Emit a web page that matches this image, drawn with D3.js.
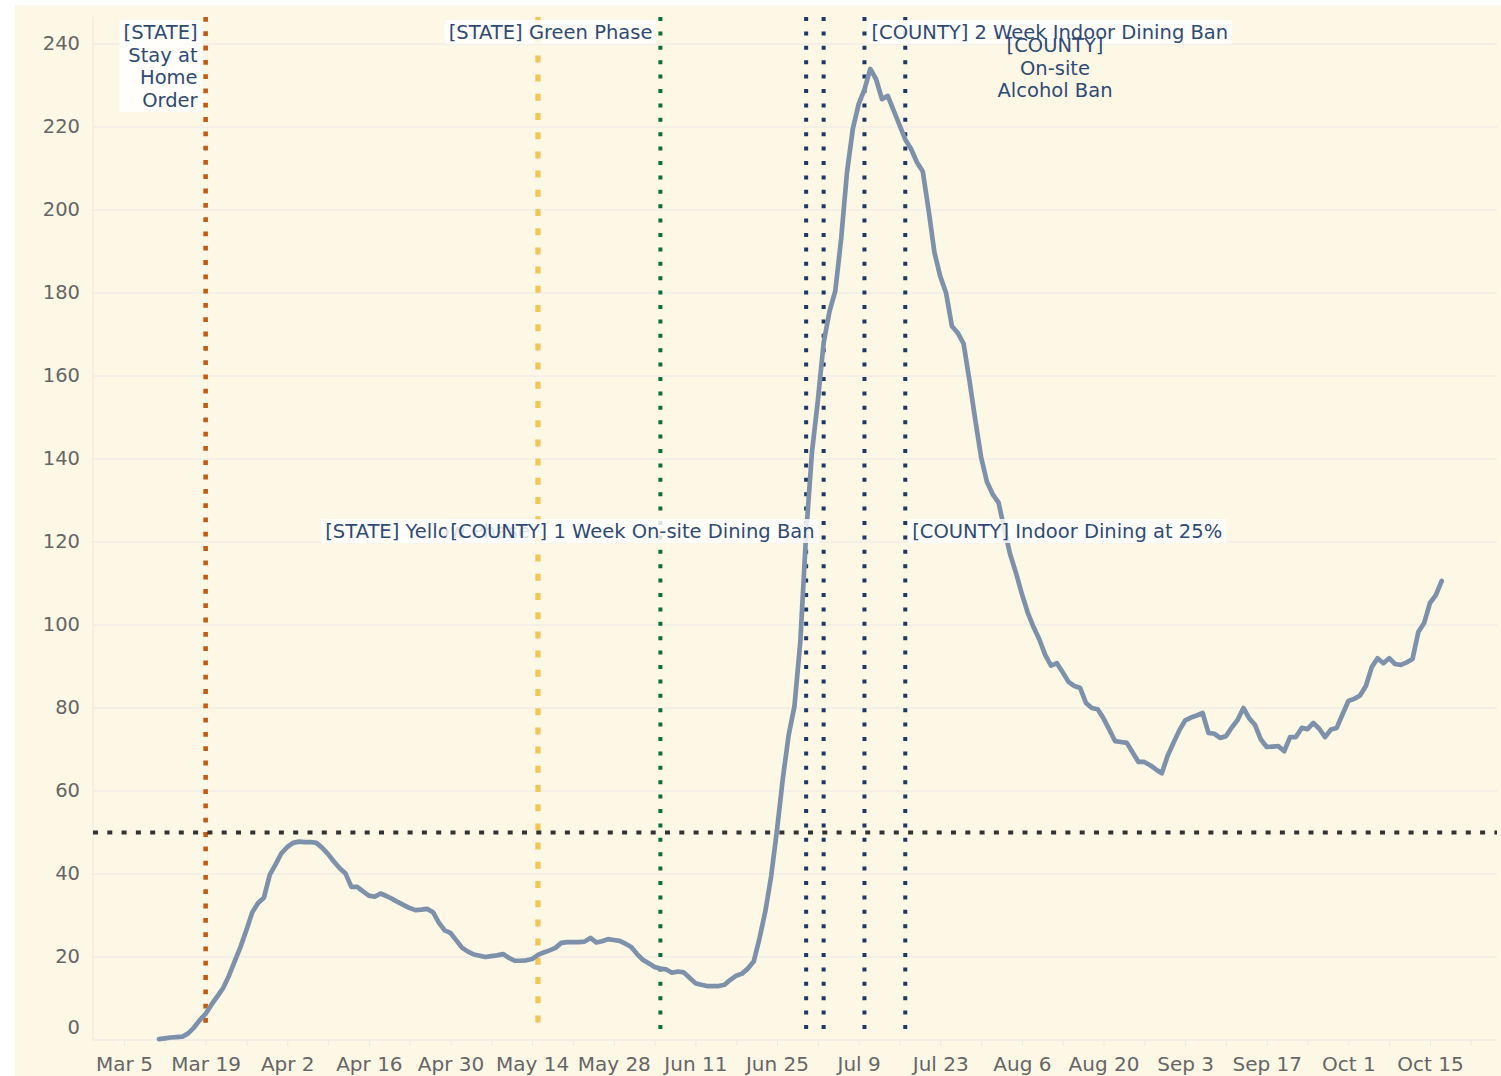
<!DOCTYPE html>
<html>
<head>
<meta charset="utf-8">
<script src="https://cdn.jsdelivr.net/npm/d3@7"></script>
<style>
  body { margin: 0; background: #fff; }
  svg { display: block; }
  text { font-family: "DejaVu Sans", Verdana, sans-serif; }
</style>
</head>
<body>
<svg id="chart" width="1501" height="1076"></svg>
<script>
// daily 7-day average, starting Mar 11 2020
const firstDay = '2020-03-11';
const cases = [
  0.2, 0.4, 0.6, 0.7, 0.8, 1.6, 3, 4.8, 6.3, 8.5, 10.5, 12.5, 15.5, 19, 22.5, 26.5, 30.8, 33, 34.3, 39.8,
  42.3, 45, 46.5, 47.5, 47.8, 47.7, 47.7, 47.5, 46.3, 44.8, 43, 41.4, 40.1, 36.9, 36.9, 35.8, 34.8, 34.5, 35.3, 34.7,
  34, 33.2, 32.5, 31.8, 31.3, 31.4, 31.6, 30.8, 28.3, 26.4, 25.8, 24, 22.2, 21.3, 20.6, 20.3, 20, 20.2, 20.4, 20.7,
  19.8, 19.1, 19.1, 19.2, 19.5, 20.5, 21.1, 21.6, 22.2, 23.4, 23.6, 23.6, 23.6, 23.7, 24.6, 23.5, 23.8, 24.3, 24.1, 23.9,
  23.2, 22.4, 20.7, 19.3, 18.5, 17.6, 17.2, 17, 16.2, 16.5, 16.3, 15, 13.7, 13.3, 13, 13, 13, 13.3, 14.5, 15.5,
  16, 17.2, 18.9, 24.5, 31, 39.5, 50.6, 63, 73.5, 80.5, 96, 122, 141.7, 154, 168, 175.5, 180.5, 193, 209, 219.5,
  225.5, 229, 234, 231.5, 226.7, 227.5, 224, 220.5, 217, 214.7, 211.5, 209.3, 200, 189.8, 184, 180, 172, 170.4, 167.8, 159,
  149.5, 140.5, 134.5, 131.5, 129.5, 123, 117, 112.5, 107.5, 103, 99.5, 96.5, 92.8, 90.2, 90.8, 88.6, 86.3, 85.3, 84.8, 81.2,
  80, 79.7, 77.5, 74.8, 72, 71.8, 71.6, 69.3, 67, 67, 66.2, 65.2, 64.3, 68.5, 71.6, 74.6, 77, 77.7, 78.2, 78.8,
  74, 73.8, 72.8, 73.2, 75.3, 77.1, 80, 77.5, 75.9, 72.4, 70.6, 70.7, 70.8, 69.6, 73, 73, 75.2, 74.9, 76.4, 75,
  73, 74.8, 75.2, 78.5, 81.7, 82.2, 83, 85.3, 89.8, 92, 90.8, 92, 90.6, 90.4, 91, 91.8, 98.3, 100.5, 105.3, 107.2,
  110.6
];

const yTicks = [0, 20, 40, 60, 80, 100, 120, 140, 160, 180, 200, 220, 240];
const xLabelDates = ['2020-03-05', '2020-03-19', '2020-04-02', '2020-04-16', '2020-04-30', '2020-05-14',
  '2020-05-28', '2020-06-11', '2020-06-25', '2020-07-09', '2020-07-23', '2020-08-06', '2020-08-20',
  '2020-09-03', '2020-09-17', '2020-10-01', '2020-10-15'];
const threshold = 50;

const eventDates = ['2020-03-19', '2020-05-15', '2020-06-05', '2020-06-30', '2020-07-03', '2020-07-10', '2020-07-17'];
const eventColors = ['#c55a11', '#f2c655', '#0b6e3b', '#1f3864', '#1f3864', '#1f3864', '#1f3864'];
const eventLabels = [
  ['[STATE]', 'Stay at', 'Home', 'Order'],
  ['[STATE] Yellow Phase'],
  ['[STATE] Green Phase'],
  ['[COUNTY]', 'On-site', 'Alcohol Ban'],
  ['[COUNTY] 1 Week On-site Dining Ban'],
  ['[COUNTY] 2 Week Indoor Dining Ban'],
  ['[COUNTY] Indoor Dining at 25%']
];

const parse = d3.utcParse('%Y-%m-%d');
const day0 = parse(firstDay);
const series = cases.map((v, i) => ({ date: d3.utcDay.offset(day0, i), value: v }));

const svg = d3.select('#chart');
const plot = { left: 93, right: 1497, top: 17, bottom: 1040 };

svg.append('rect')
  .attr('x', 15).attr('y', 5)
  .attr('width', 1501 - 15).attr('height', 1076 - 5)
  .attr('fill', '#fdf7e6');

const x = d3.scaleUtc()
  .domain([parse('2020-03-05'), parse('2020-10-15')])
  .range([124, 1430]);
const y = d3.scaleLinear()
  .domain([0, 240])
  .range([plot.bottom, 44]);

// grid
svg.append('g')
  .selectAll('line')
  .data(yTicks.filter(t => t > 0))
  .join('line')
  .attr('x1', plot.left).attr('x2', plot.right)
  .attr('y1', d => y(d)).attr('y2', d => y(d))
  .attr('stroke', '#f1eee8')
  .attr('stroke-width', 1.5);

// x axis with weekly ticks, labels every other week
const tickDates = [];
for (let d = parse('2020-03-05'); x(d) < plot.right; d = d3.utcDay.offset(d, 7)) tickDates.push(d);
const labelSet = new Set(xLabelDates);
const fmt = d3.utcFormat('%b %-d');
const xAxis = svg.append('g')
  .attr('transform', `translate(0,${plot.bottom})`)
  .call(d3.axisBottom(x)
    .tickValues(tickDates)
    .tickSize(6)
    .tickSizeOuter(0)
    .tickFormat(d => labelSet.has(d3.utcFormat('%Y-%m-%d')(d)) ? fmt(d) : ''));
xAxis.select('.domain').remove();
xAxis.append('line')
  .attr('x1', plot.left).attr('x2', plot.right)
  .attr('stroke', '#efece6').attr('stroke-width', 1.5);
xAxis.selectAll('.tick line').attr('stroke', '#ece9e2');
xAxis.selectAll('.tick text')
  .attr('y', 17)
  .attr('fill', '#666')
  .attr('font-size', 20)
  .attr('font-family', '"DejaVu Sans", Verdana, sans-serif');

// y axis
svg.append('line')
  .attr('x1', plot.left).attr('x2', plot.left)
  .attr('y1', plot.top).attr('y2', plot.bottom)
  .attr('stroke', '#efece6').attr('stroke-width', 1.5);
svg.append('g')
  .selectAll('text')
  .data(yTicks)
  .join('text')
  .attr('x', 80)
  .attr('y', d => d === 0 ? y(d) - 13 : y(d) - 1)
  .attr('dy', '0.35em')
  .attr('text-anchor', 'end')
  .attr('fill', '#666')
  .attr('font-size', 19.5)
  .text(d => d);

// event lines
const dashFor = c => c === '#f2c655' ? '7 12.2' : (c === '#c55a11' ? '4.8 9.5' : '4 10.4');
const widthFor = c => c === '#f2c655' ? 5.2 : (c === '#c55a11' ? 4.6 : 4);
svg.append('g')
  .selectAll('line')
  .data(eventDates)
  .join('line')
  .attr('x1', d => x(parse(d))).attr('x2', d => x(parse(d)))
  .attr('y1', plot.top).attr('y2', 1032)
  .attr('stroke', (d, i) => eventColors[i])
  .attr('stroke-width', (d, i) => widthFor(eventColors[i]))
  .attr('stroke-dasharray', (d, i) => dashFor(eventColors[i]));

// threshold line
svg.append('line')
  .attr('x1', plot.left).attr('x2', plot.right)
  .attr('y1', y(threshold)).attr('y2', y(threshold))
  .attr('stroke', '#333')
  .attr('stroke-width', 4)
  .attr('stroke-dasharray', '5 9.3');

// case line
svg.append('path')
  .datum(series)
  .attr('fill', 'none')
  .attr('stroke', '#7d91aa')
  .attr('stroke-width', 4.7)
  .attr('stroke-linejoin', 'round')
  .attr('stroke-linecap', 'round')
  .attr('d', d3.line().x(d => x(d.date)).y(d => y(d.value)));

// annotations: anchor, offset from line, first line centre, box
const layout = [
  { anchor: 'end', dx: -8, y: 32, box: true },
  { anchor: 'end', dx: -8, y: 531, box: true },
  { anchor: 'end', dx: -8, y: 32, box: true },
  { anchor: 'middle', cx: 1055, y: 45, box: false },
  { anchor: 'end', dx: -9, y: 531, box: true },
  { anchor: 'start', dx: 7, y: 32, box: true },
  { anchor: 'start', dx: 7, y: 531, box: true }
];
const lineH = 22.7;
const ann = svg.append('g');
// the unboxed alcohol-ban label sits on top of the others
const order = [0, 1, 2, 4, 5, 6, 3];
order.forEach(i => {
  const lines = eventLabels[i];
  const L = layout[i];
  const g = ann.append('g');
  const tx = L.cx !== undefined ? L.cx : x(parse(eventDates[i])) + L.dx;
  g.selectAll('text')
    .data(lines)
    .join('text')
    .attr('x', tx)
    .attr('y', (d, k) => L.y + k * lineH)
    .attr('dy', '0.36em')
    .attr('text-anchor', L.anchor)
    .attr('fill', '#2f4a73')
    .attr('font-size', 19.5)
    .text(d => d);
  if (L.box) {
    const b = g.node().getBBox();
    g.insert('rect', 'text')
      .attr('x', b.x - 4).attr('y', L.y - 12)
      .attr('width', b.width + 8).attr('height', (lines.length - 1) * lineH + 24)
      .attr('fill', '#fff').attr('fill-opacity', 0.82);
  }
});
</script>
</body>
</html>
